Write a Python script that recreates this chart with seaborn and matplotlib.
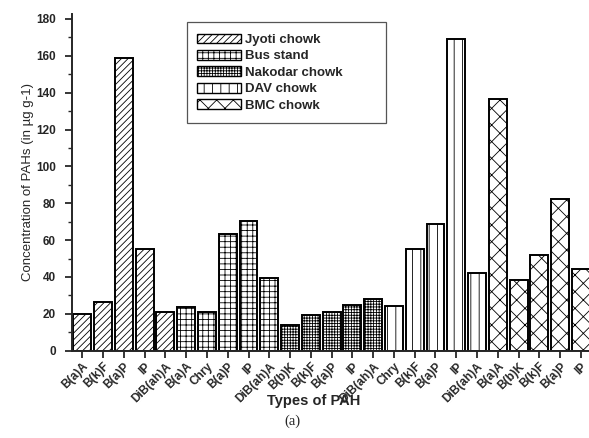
import matplotlib
matplotlib.use("Agg")
import matplotlib.pyplot as plt
from matplotlib.patches import Patch, Rectangle
from matplotlib.ticker import MultipleLocator
import seaborn as sns
import pandas as pd

sites = ["Jyoti chowk", "Bus stand", "Nakodar chowk", "DAV chowk", "BMC chowk"]
pah_labels = [
    "B(a)A", "B(k)F", "B(a)P", "IP", "DiB(ah)A",
    "B(a)A", "Chry", "B(a)P", "IP", "DiB(ah)A",
    "B(b)K", "B(k)F", "B(a)P", "IP", "DiB(ah)A",
    "Chry", "B(k)F", "B(a)P", "IP", "DiB(ah)A",
    "B(a)A", "B(b)K", "B(k)F", "B(a)P", "IP",
]
jyoti = [19.7, 26.4, 159.0, 55.0, 21.0]
bus = [23.7, 21.0, 63.2, 70.2, 39.4]
nakodar = [13.9, 19.2, 20.8, 25.0, 27.9]
dav = [24.3, 55.2, 68.7, 169.3, 42.2]
bmc = [136.4, 38.4, 51.9, 82.5, 44.5]
hatches = ["/////", "+++", "++++++", "||", "xx"]

values = jyoti + bus + nakodar + dav + bmc
site_col = [s for s in sites for _ in range(5)]
df = pd.DataFrame({
    "pos": [str(i) for i in range(len(values))],
    "value": values,
    "site": site_col,
})

sns.set_style("ticks")
plt.rcParams["font.family"] = ["Liberation Sans", "DejaVu Sans"]
plt.rcParams["hatch.linewidth"] = 0.6

fig = plt.figure(figsize=(5.89, 4.38), dpi=100)
ax = fig.add_axes([0.1228, 0.1993, 0.8772, 0.7687])

sns.barplot(data=df, x="pos", y="value", hue="site", order=df["pos"].tolist(),
            hue_order=sites, dodge=False, width=0.86, ax=ax,
            palette=["white"] * 5, edgecolor="black", linewidth=1.4,
            legend=False)

for cont, h in zip(ax.containers, hatches):
    for bar in cont:
        bar.set_hatch(h)
        bar.set_edgecolor("black")

ax.set_xlim(-0.48, 24.39)
ax.set_ylim(0, 182.7)
ax.yaxis.set_major_locator(MultipleLocator(20))
ax.yaxis.set_minor_locator(MultipleLocator(10))
ax.set_xticks(range(len(pah_labels)))
ax.set_xticklabels(pah_labels, rotation=45, ha="right", rotation_mode="anchor",
                   fontsize=8.5, fontweight="bold")
for lab in ax.get_yticklabels():
    lab.set_fontweight("bold")
    lab.set_fontsize(8.5)
ax.tick_params(axis="both", which="major", direction="out", length=5, width=1.3)
ax.tick_params(axis="y", which="minor", direction="out", length=3, width=1.0)
ax.tick_params(axis="x", pad=2)
ax.tick_params(axis="y", which="major", pad=7)

for s in ["top", "right"]:
    ax.spines[s].set_visible(False)
for s in ["left", "bottom"]:
    ax.spines[s].set_linewidth(1.4)

ax.set_ylabel("Concentration of PAHs (in µg g-1)", fontsize=9.5, labelpad=1)
ax.set_xlabel("Types of PAH", fontsize=10.5, fontweight="bold")
ax.xaxis.set_label_coords(0.468, -0.128)

# legend box (wider than content, as in the reference)
ax.add_patch(Rectangle((0.222, 0.676), 0.385, 0.300, transform=ax.transAxes,
                       facecolor="white", edgecolor="#555555", linewidth=0.9,
                       zorder=4, clip_on=False))
handles = [Patch(facecolor="white", edgecolor="black", hatch=h, linewidth=1.0)
           for h in hatches]
leg = ax.legend(handles, sites, loc="upper left", bbox_to_anchor=(0.2414, 0.942),
                frameon=False, prop={"weight": "bold", "size": 9.5},
                handlelength=3.3, handleheight=0.76, labelspacing=0.30,
                borderpad=0, handletextpad=0.35, borderaxespad=0)
leg.set_zorder(5)

fig.text(0.496, 0.022, "(a)", ha="center", va="bottom", fontsize=10.5,
         family=["Liberation Serif", "DejaVu Serif"])

fig.savefig("out.png", dpi=100)
